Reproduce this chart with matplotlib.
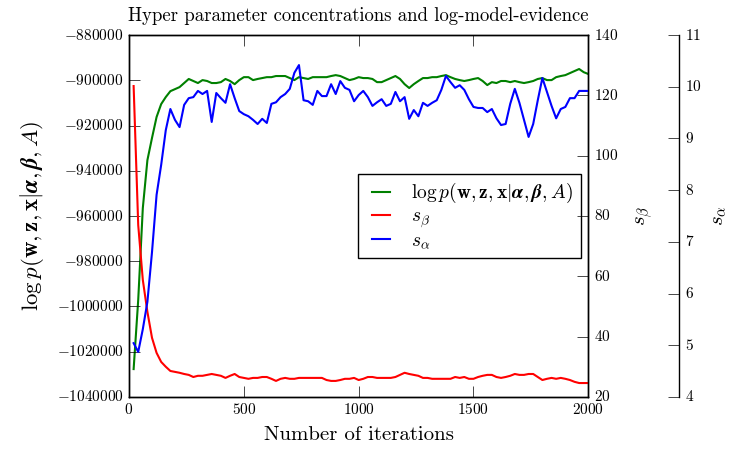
import matplotlib
matplotlib.use('Agg')
import matplotlib.pyplot as plt

plt.style.use('classic')
plt.rcParams['font.family'] = 'serif'
plt.rcParams['font.serif'] = ['cmr10']
plt.rcParams['mathtext.fontset'] = 'cm'
plt.rcParams['axes.formatter.use_mathtext'] = True
plt.rcParams['figure.facecolor'] = 'white'

iterations = list(range(20, 2001, 20))

log_evidence = [
    -1027700, -997100, -956500, -935300, -925500, -916200, -910500, -907400, -904800, -903900,
    -903000, -901200, -899400, -900300, -901200, -899900, -900300, -901200, -901200, -900800,
    -899400, -900300, -901700, -899900, -898600, -898600, -899900, -899400, -899000, -898600,
    -898600, -898100, -898100, -898100, -899000, -899900, -898600, -899000, -899400, -898600,
    -898600, -898600, -898600, -898100, -897700, -898100, -899000, -899900, -899400, -898600,
    -899000, -899000, -899400, -900800, -900800, -899900, -899000, -898100, -899400, -901700,
    -903400, -901700, -900300, -899000, -899000, -898600, -898600, -898100, -897700, -898600,
    -899400, -899900, -900300, -899900, -899400, -899000, -900300, -902100, -900800, -901200,
    -900300, -900300, -900800, -900300, -900800, -901200, -900800, -900300, -899400, -899000,
    -899900, -899900, -898600, -898100, -897700, -896800, -895900, -895000, -896400, -897200,
]

s_beta = [
    123.1, 77.0, 58.8, 48.2, 39.6, 34.6, 31.6, 30.0, 28.6, 28.3,
    28.0, 27.6, 27.3, 26.6, 27.0, 27.0, 27.3, 27.6, 27.3, 27.0,
    26.3, 27.0, 27.6, 26.6, 26.3, 26.0, 26.3, 26.3, 26.6, 26.6,
    26.0, 25.3, 26.0, 26.3, 26.0, 26.0, 26.3, 26.3, 26.3, 26.3,
    26.3, 26.3, 25.6, 25.3, 25.3, 25.6, 26.0, 26.0, 26.3, 25.6,
    26.0, 26.6, 26.6, 26.3, 26.3, 26.3, 26.3, 26.6, 27.3, 28.0,
    27.6, 27.3, 27.0, 26.3, 26.3, 26.0, 26.0, 26.0, 26.0, 26.0,
    26.6, 26.3, 26.6, 26.0, 26.0, 26.6, 27.0, 27.3, 27.3, 26.6,
    26.3, 26.6, 27.0, 27.6, 27.3, 27.3, 27.6, 27.6, 26.6, 25.6,
    26.0, 26.3, 26.0, 26.3, 26.0, 25.6, 25.0, 24.6, 24.6, 24.6,
]

s_alpha = [
    5.04, 4.87, 5.31, 5.84, 6.80, 7.91, 8.49, 9.16, 9.57, 9.36,
    9.22, 9.65, 9.78, 9.80, 9.92, 9.86, 9.92, 9.32, 9.88, 9.78,
    9.69, 10.05, 9.78, 9.53, 9.47, 9.43, 9.36, 9.28, 9.38, 9.30,
    9.67, 9.70, 9.80, 9.86, 9.96, 10.27, 10.42, 9.74, 9.72, 9.65,
    9.92, 9.82, 9.82, 10.05, 9.86, 10.11, 9.98, 9.94, 9.72, 9.84,
    9.92, 9.80, 9.63, 9.70, 9.76, 9.63, 9.67, 9.90, 9.72, 9.80,
    9.38, 9.55, 9.43, 9.69, 9.63, 9.69, 9.74, 9.94, 10.21, 10.09,
    9.98, 10.03, 9.94, 9.76, 9.61, 9.59, 9.59, 9.51, 9.57, 9.39,
    9.26, 9.28, 9.67, 9.96, 9.69, 9.36, 9.03, 9.28, 9.74, 10.17,
    9.90, 9.63, 9.39, 9.57, 9.61, 9.78, 9.78, 9.92, 9.92, 9.92,
]

evidence_label = r'$\log p(\mathbf{w},\mathbf{z},\mathbf{x}|\boldsymbol{\alpha},\boldsymbol{\beta},A)$'

fig = plt.figure(figsize=(7.29, 4.5), dpi=100)
ax = fig.add_axes([0.177, 0.118, 0.63, 0.804])
ax2 = ax.twinx()
ax3 = ax.twinx()
ax3.spines['right'].set_position(('axes', 1.198))
ax3.set_frame_on(True)
ax3.patch.set_visible(False)
for sp in ax3.spines.values():
    sp.set_visible(False)
ax3.spines['right'].set_visible(True)

l1, = ax.plot(iterations, log_evidence, 'g', lw=1.5, label=evidence_label)
l2, = ax2.plot(iterations, s_beta, 'r', lw=1.5, label=r'$s_\beta$')
l3, = ax3.plot(iterations, s_alpha, 'b', lw=1.5, label=r'$s_\alpha$')

ax.set_xlim(0, 2000)
ax.set_ylim(-1040000, -880000)
ax2.set_ylim(20, 140)
ax3.set_ylim(4, 11)
ax.ticklabel_format(useOffset=False, axis='y')

ax.set_title('Hyper parameter concentrations and log-model-evidence', fontsize=13.5, y=1.02)
ax.set_xlabel('Number of iterations', fontsize=15, labelpad=6)
ax.set_ylabel(evidence_label, fontsize=16.5, labelpad=8)
ax2.set_ylabel(r'$s_\beta$', fontsize=15, labelpad=12)
ax3.set_ylabel(r'$s_\alpha$', fontsize=15, labelpad=6)

for a in (ax, ax2, ax3):
    a.tick_params(labelsize=11, length=8)

ax.legend(handles=[l1, l2, l3], loc='center right', fontsize=14,
          handlelength=1.5, labelspacing=0.1, borderaxespad=0.4)

fig.savefig('out.png', dpi=100)
